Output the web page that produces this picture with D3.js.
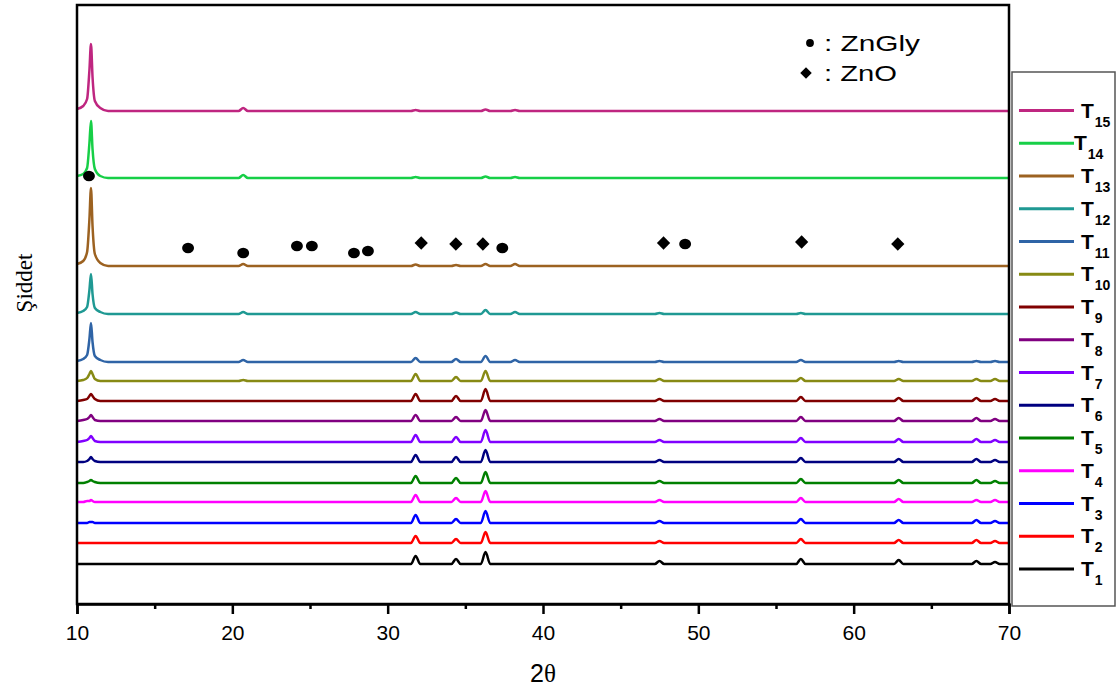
<!DOCTYPE html>
<html>
<head>
<meta charset="utf-8">
<script src="https://cdn.jsdelivr.net/npm/d3@7"></script>
<style>
  body { margin: 0; background: #fff; }
  svg { display: block; font-family: "Liberation Sans", Arial, sans-serif; }
</style>
</head>
<body>
<svg id="chart" width="1117" height="693"></svg>
<script>
// 2θ positions shared by every pattern
const twoTheta = [10.0, 10.4, 10.65, 10.8, 10.9, 11.0, 11.15, 11.5, 12.0,
  20.4, 20.7, 21.0, 31.5, 31.8, 32.1, 34.1, 34.4, 34.7, 36.0, 36.3, 36.6,
  37.9, 38.2, 38.5, 47.2, 47.5, 47.8, 56.3, 56.6, 56.9, 62.6, 62.9, 63.2,
  67.6, 67.9, 68.2, 68.8, 69.1, 69.4, 70.0];

const sampleNames = ["T1", "T2", "T3", "T4", "T5", "T6", "T7", "T8", "T9", "T10", "T11", "T12", "T13", "T14", "T15"];

// stacking offset of each pattern (a.u.)
const sampleOffsets = [40, 61, 81, 102, 121, 142, 162, 183, 203, 223, 242, 290, 338, 426, 493];

// intensity above the offset, one value per twoTheta position
const intensities = [
  [0,0,0,0,0,0,0,0,0, 0,0,0, 0,8,0, 0,5,0, 0,12,0, 0,0,0, 0,3,0, 0,5,0, 0,4,0, 0,3,0, 0,2,0, 0],
  [0,0,0,0,0,0,0,0,0, 0,0,0, 0,7,0, 0,4,0, 0,11,0, 0,0,0, 0,2,0, 0,4,0, 0,3,0, 0,3,0, 0,2,0, 0],
  [0,0,0,1,1,1,0,0,0, 0,0,0, 0,8,0, 0,4,0, 0,12,0, 0,0,0, 0,2,0, 0,4,0, 0,3,0, 0,3,0, 0,2,0, 0],
  [0,0,1,1,2,1,0,0,0, 0,0,0, 0,7,0, 0,4,0, 0,11,0, 0,0,0, 0,2,0, 0,4,0, 0,3,0, 0,2,0, 0,2,0, 0],
  [0,0,1,2,3,2,1,0,0, 0,0,0, 0,7,0, 0,5,0, 0,11,0, 0,0,0, 0,2,0, 0,4,0, 0,3,0, 0,3,0, 0,2,0, 0],
  [0,0,1,3,5,3,1,0,0, 0,0,0, 0,7,0, 0,5,0, 0,12,0, 0,0,0, 0,2,0, 0,4,0, 0,3,0, 0,3,0, 0,2,0, 0],
  [0,1,2,4,6,4,1,0,0, 0,0,0, 0,7,0, 0,5,0, 0,12,0, 0,0,0, 0,2,0, 0,4,0, 0,3,0, 0,3,0, 0,2,0, 0],
  [0,1,2,4,6,4,1,0,0, 0,0,0, 0,6,0, 0,4,0, 0,11,0, 0,0,0, 0,2,0, 0,4,0, 0,3,0, 0,3,0, 0,2,0, 0],
  [0,1,2,5,7,5,2,0,0, 0,0,0, 0,7,0, 0,5,0, 0,12,0, 0,0,0, 0,2,0, 0,4,0, 0,3,0, 0,3,0, 0,2,0, 0],
  [0,1,3,7,10,7,2,0,0, 0,1,0, 0,7,0, 0,4,0, 0,10,0, 0,0,0, 0,2,0, 0,3,0, 0,2,0, 0,2,0, 0,2,0, 0],
  [1,3,7,23,39,20,6,2,0, 0,2,0, 0,4,0, 0,3,0, 0,6,0, 0,2,0, 0,1,0, 0,2,0, 0,1,0, 0,1,0, 0,1,0, 0],
  [1,3,7,24,40,20,6,2,0, 0,2,0, 0,2,0, 0,1.5,0, 0,4,0, 0,2,0, 0,1,0, 0,1,0, 0,0,0, 0,0,0, 0,0,0, 0],
  [2,5,14,47,78,40,12,3,0, 0,2,0, 0,1.5,0, 0,1,0, 0,2,0, 0,2,0, 0,0,0, 0,0,0, 0,0,0, 0,0,0, 0,0,0, 0],
  [2,4,10,35,57,29,9,2,0, 0,3,0, 0,1,0, 0,0,0, 0,1.5,0, 0,1,0, 0,0,0, 0,0,0, 0,0,0, 0,0,0, 0,0,0, 0],
  [2,5,12,41,67,34,10,3,0, 0,3,0, 0,1,0, 0,0,0, 0,1.5,0, 0,1,0, 0,0,0, 0,0,0, 0,0,0, 0,0,0, 0,0,0, 0]
];

const sampleColors = ["#000000", "#ff0000", "#0000ff", "#ff00ff", "#008000", "#000080", "#8000ff",
  "#800080", "#800000", "#878a14", "#2f64a6", "#1f9993", "#9c6221", "#17cf47", "#bf2680"];

// phase markers (2θ, a.u.)
const znGlyX = [10.77, 17.15, 20.70, 24.16, 25.12, 27.83, 28.73, 37.38, 49.15];
const znGlyY = [428, 356, 351, 358, 358, 351, 353, 356, 360];
const znOX = [32.16, 34.39, 36.13, 47.76, 56.65, 62.84];
const znOY = [361, 360, 360, 361, 362, 360];

const majorTicks = [10, 20, 30, 40, 50, 60, 70];
const minorTicks = [15, 25, 35, 45, 55, 65];

const margin = { left: 77, right: 1009, top: 5, bottom: 604 };

const svg = d3.select("#chart");

const x = d3.scaleLinear().domain([10, 70]).range([margin.left, margin.right]);
const y = d3.scaleLinear().domain([0, 599]).range([margin.bottom, margin.top]);

const line = d3.line()
    .x(d => x(d[0]))
    .y(d => y(d[1]))
    .curve(d3.curveMonotoneX);

const series = sampleNames.map((name, i) => ({
    name: name,
    color: sampleColors[i],
    points: twoTheta.map((t, j) => [t, sampleOffsets[i] + intensities[i][j]])
}));

svg.append("g").attr("class", "patterns")
    .selectAll("path")
    .data(series)
    .join("path")
    .attr("d", d => line(d.points))
    .attr("fill", "none")
    .attr("stroke", d => d.color)
    .attr("stroke-width", 2.5)
    .attr("stroke-linejoin", "round");

// phase markers
const circleSym = d3.symbol().type(d3.symbolCircle).size(92);
const diamondSym = d3.symbol().type(d3.symbolSquare).size(88);

svg.append("g").selectAll("path")
    .data(znGlyX.map((t, i) => [t, znGlyY[i]]))
    .join("path")
    .attr("d", circleSym)
    .attr("transform", d => `translate(${x(d[0])},${y(d[1])}) scale(1.1,0.95)`)
    .attr("fill", "#000");

svg.append("g").selectAll("path")
    .data(znOX.map((t, i) => [t, znOY[i]]))
    .join("path")
    .attr("d", diamondSym)
    .attr("transform", d => `translate(${x(d[0])},${y(d[1])}) rotate(45)`)
    .attr("fill", "#000");

// frame
svg.append("rect")
    .attr("x", margin.left).attr("y", margin.top)
    .attr("width", margin.right - margin.left)
    .attr("height", margin.bottom - margin.top)
    .attr("fill", "none")
    .attr("stroke", "#000")
    .attr("stroke-width", 2.5);

const xAxis = svg.append("g")
    .attr("transform", `translate(0,${margin.bottom})`)
    .call(d3.axisBottom(x).tickValues(majorTicks).tickSize(10).tickPadding(11).tickFormat(d3.format("d")));
xAxis.select(".domain").attr("stroke-width", 2.5);
xAxis.selectAll(".tick line").attr("stroke-width", 2.5);
xAxis.selectAll("text").style("font-size", "21px").style("font-family", "'Liberation Sans', Arial, sans-serif").attr("fill", "#000");

const xMinor = svg.append("g")
    .attr("transform", `translate(0,${margin.bottom})`)
    .call(d3.axisBottom(x).tickValues(minorTicks).tickSize(5).tickFormat(""));
xMinor.select(".domain").remove();
xMinor.selectAll(".tick line").attr("stroke-width", 2.5);

// axis titles
svg.append("text")
    .attr("x", x(40)).attr("y", 682)
    .attr("text-anchor", "middle")
    .style("font-size", "25px")
    .call(t => {
        t.append("tspan").text("2");
        t.append("tspan").style("font-family", "'Liberation Serif', 'Times New Roman', serif").text("θ");
    });

svg.append("text")
    .attr("transform", "translate(32,283) rotate(-90)")
    .attr("text-anchor", "middle")
    .style("font-family", "'Liberation Serif', 'Times New Roman', serif")
    .style("font-size", "23px")
    .text("Şiddet");

// phase key
svg.append("path")
    .attr("d", d3.symbol().type(d3.symbolCircle).size(48))
    .attr("transform", "translate(810,43)");
svg.append("text")
    .attr("x", 824).attr("y", 51)
    .attr("textLength", 96).attr("lengthAdjust", "spacingAndGlyphs")
    .style("font-size", "22px")
    .text(": ZnGly");

svg.append("path")
    .attr("d", d3.symbol().type(d3.symbolSquare).size(66))
    .attr("transform", "translate(806,73) rotate(45)");
svg.append("text")
    .attr("x", 824).attr("y", 81)
    .attr("textLength", 73).attr("lengthAdjust", "spacingAndGlyphs")
    .style("font-size", "22px")
    .text(": ZnO");

// sample legend
svg.append("rect")
    .attr("x", 1012).attr("y", 72)
    .attr("width", 103).attr("height", 534)
    .attr("fill", "#fff")
    .attr("stroke", "#555")
    .attr("stroke-width", 1.5);

const legendY = d3.scaleLinear().domain([14, 0]).range([110.5, 569]);

const legendItem = svg.append("g").attr("class", "legend")
    .selectAll("g")
    .data(series)
    .join("g")
    .attr("transform", (d, i) => `translate(0,${legendY(i)})`);

legendItem.append("line")
    .attr("x1", 1019).attr("x2", 1074)
    .attr("stroke", d => d.color)
    .attr("stroke-width", 3);

const legendText = legendItem.append("text")
    .attr("x", d => d.name === "T14" ? 1074 : 1081)
    .attr("y", 7)
    .style("font-weight", "bold")
    .style("font-size", "21px");
legendText.append("tspan").text("T");
legendText.append("tspan")
    .attr("dy", 9)
    .attr("dx", 1)
    .style("font-size", "14px")
    .text(d => d.name.slice(1));
</script>
</body>
</html>
